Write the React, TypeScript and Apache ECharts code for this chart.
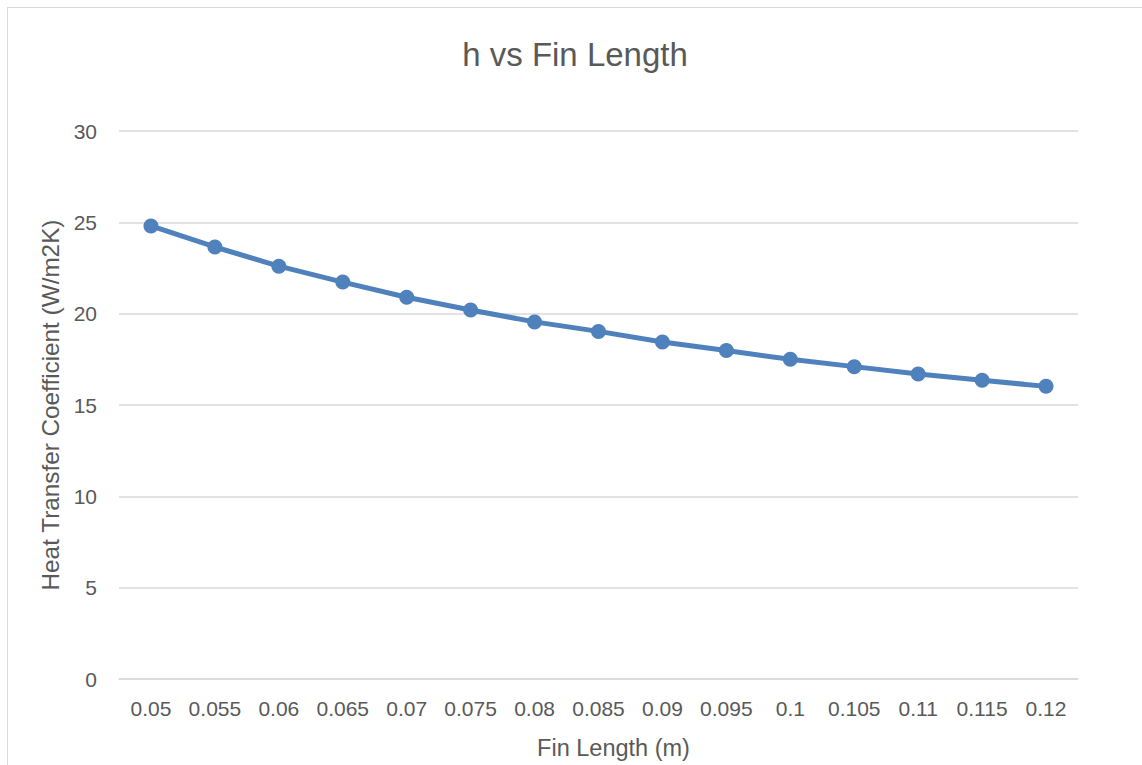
import React, { useEffect, useRef } from "react";
import * as echarts from "echarts";

const categories = ["0.05", "0.055", "0.06", "0.065", "0.07", "0.075", "0.08", "0.085", "0.09", "0.095", "0.1", "0.105", "0.11", "0.115", "0.12"];
const hValues = [24.8, 23.65, 22.6, 21.73, 20.9, 20.2, 19.55, 19.03, 18.45, 17.98, 17.5, 17.1, 16.7, 16.35, 16.02];
const chartTitle = "h vs Fin Length";
const xTitle = "Fin Length (m)";
const yTitle = "Heat Transfer Coefficient (W/m2K)";

const FONT = "'Liberation Sans', Arial, sans-serif";
const TEXT = "#595959";
const GRID = "#d9d9d9";

export default function App() {
  const ref = useRef<HTMLDivElement>(null);
  useEffect(() => {
    if (!ref.current) return;
    const chart = echarts.init(ref.current, undefined, { renderer: "svg" });
    chart.setOption({
      animation: false,
      backgroundColor: "#ffffff",
      title: {
        text: chartTitle,
        left: "center",
        top: 25,
        textStyle: { fontFamily: FONT, fontSize: 33, fontWeight: "normal", color: TEXT },
      },
      grid: { left: 111, top: 123, width: 959, bottom: 86, containLabel: false },
      xAxis: {
        type: "category",
        data: categories,
        boundaryGap: true,
        name: xTitle,
        nameLocation: "middle",
        nameGap: 57,
        nameTextStyle: { fontFamily: FONT, fontSize: 23.5, color: TEXT, padding: [0, 0, 0, 30] },
        axisLine: { show: true, lineStyle: { color: GRID, width: 1.5 } },
        axisTick: { show: false },
        axisLabel: { fontFamily: FONT, fontSize: 21, color: TEXT, margin: 19, interval: 0 },
      },
      yAxis: {
        type: "value",
        min: 0,
        max: 30,
        interval: 5,
        name: yTitle,
        nameLocation: "middle",
        nameGap: 50,
        nameTextStyle: { fontFamily: FONT, fontSize: 24.3, color: TEXT },
        axisLine: { show: false },
        axisTick: { show: false },
        axisLabel: { fontFamily: FONT, fontSize: 21, color: TEXT, margin: 22 },
        splitLine: { show: true, lineStyle: { color: GRID, width: 1.5 } },
      },
      series: [
        {
          type: "line",
          data: hValues,
          symbol: "circle",
          symbolSize: 15,
          smooth: false,
          lineStyle: { color: "#4f81bd", width: 5 },
          itemStyle: { color: "#4f81bd" },
        },
      ],
    });
    return () => chart.dispose();
  }, []);
  return (
    <div
      style={{
        position: "fixed",
        left: 7,
        top: 7,
        width: 1135,
        height: 758,
        borderTop: `1px solid ${GRID}`,
        borderLeft: `1px solid ${GRID}`,
        boxSizing: "border-box",
        background: "#fff",
      }}
    >
      <div ref={ref} style={{ width: 1134, height: 757 }} />
    </div>
  );
}
